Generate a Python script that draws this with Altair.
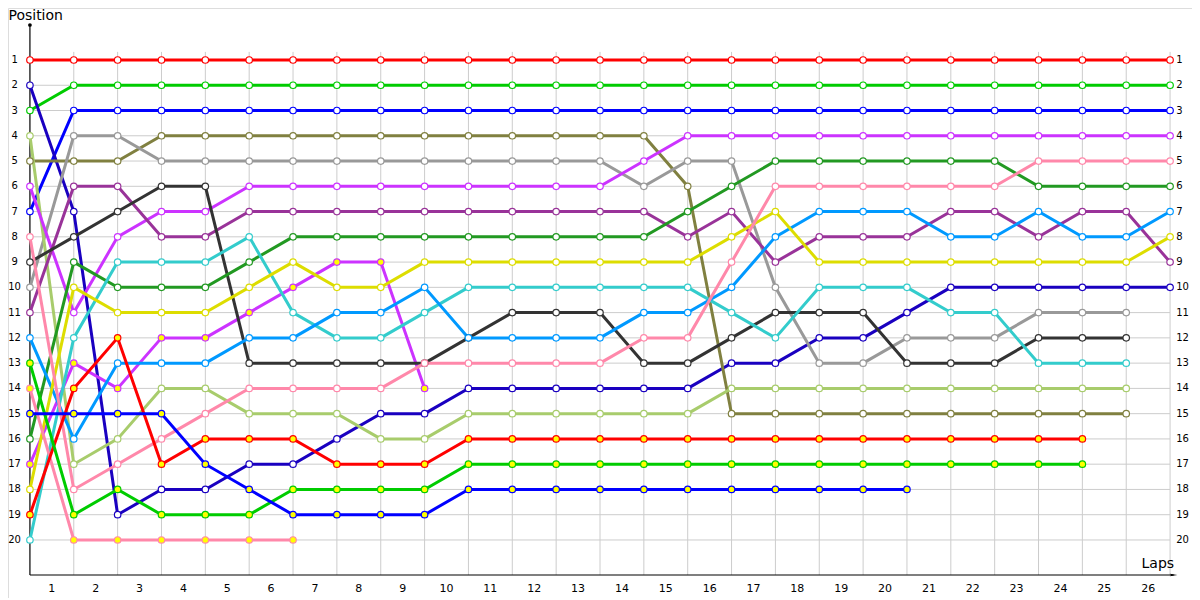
import altair as alt
import pandas as pd

# ---------------- data ----------------
laps = list(range(27))
pos_labels = list(range(1, 21))
lap_labels = list(range(1, 27))

drivers = ["red_a", "green_a", "blue_a", "navy", "olive", "gray", "lightgreen",
           "violet", "violet_b", "darkpurple", "darkgray", "darkgreen", "cyan",
           "lightblue", "yellow", "pink_a", "pink_b", "red_b", "green_b", "blue_b"]

colors = ["#ff0000", "#00cc00", "#0000ff", "#1a00c0", "#808040", "#999999", "#a8cc6c",
          "#cc33ff", "#cc33ff", "#993399", "#333333", "#229922", "#33cccc",
          "#0099ff", "#dddd00", "#ff88aa", "#ff88aa", "#ff0000", "#00cc00", "#0000ff"]

lapped = [False, False, False, False, False, False, False,
          False, True, False, False, False, False,
          False, False, False, True, True, True, True]

red_a = [1] * 27
green_a = [3] + [2] * 26
blue_a = [7] + [3] * 26
navy = [2, 7, 19, 18, 18, 17, 17, 16, 15, 15] + [14] * 6 + [13, 13, 12, 12, 11] + [10] * 6
olive = [5, 5, 5] + [4] * 12 + [6] + [15] * 10
gray = [10, 4, 4] + [5] * 11 + [6, 5, 5, 10, 13, 13, 12, 12, 12, 11, 11, 11]
lightgreen = [4, 17, 16, 14, 14, 15, 15, 15, 16, 16] + [15] * 6 + [14] * 10
violet = [6, 11, 8, 7, 7] + [6] * 9 + [5] + [4] * 12
violet_b = [17, 13, 14, 12, 12, 11, 10, 9, 9, 14]
darkpurple = [11, 6, 6, 8, 8] + [7] * 10 + [8, 7, 9, 8, 8, 8, 7, 7, 8, 7, 7, 9]
darkgray = [9, 8, 7, 6, 6] + [13] * 5 + [12, 11, 11, 11, 13, 13, 12, 11, 11, 11, 13, 13, 13, 12, 12, 12]
darkgreen = [16, 9, 10, 10, 10, 9] + [8] * 9 + [7, 6] + [5] * 6 + [6] * 4
cyan = [20, 12, 9, 9, 9, 8, 11, 12, 12, 11] + [10] * 6 + [11, 12, 10, 10, 10, 11, 11, 13, 13, 13]
lightblue = [12, 16, 13, 13, 13, 12, 12, 11, 11, 10] + [12] * 4 + [11, 11, 10, 8, 7, 7, 7, 8, 8, 7, 8, 8, 7]
yellow = [18, 10, 11, 11, 11, 10, 9, 10, 10] + [9] * 7 + [8, 7] + [9] * 8 + [8]
pink_a = [8, 18, 17, 16, 15] + [14] * 4 + [13] * 5 + [12, 12, 9] + [6] * 6 + [5] * 4
pink_b = [14] + [20] * 6
red_b = [19, 14, 12, 17, 16, 16, 16, 17, 17, 17] + [16] * 15
green_b = [13, 19, 18, 19, 19, 19, 18, 18, 18, 18] + [17] * 15
blue_b = [15, 15, 15, 15, 17, 18, 19, 19, 19, 19] + [18] * 11

series = [red_a, green_a, blue_a, navy, olive, gray, lightgreen, violet, violet_b,
          darkpurple, darkgray, darkgreen, cyan, lightblue, yellow, pink_a, pink_b,
          red_b, green_b, blue_b]

rows = []
for name, flag, s in zip(drivers, lapped, series):
    for lap, p in zip(laps, s):
        rows.append({"driver": name, "lap": lap, "pos": p,
                     "fillc": "#ffff00" if flag else "#ffffff"})
df = pd.DataFrame(rows)

# ---------------- scales ----------------
xs = alt.Scale(domain=[-0.5, 26.5], nice=False, zero=False)
ys = alt.Scale(domain=[-1.058, 22.297], nice=False, zero=False, reverse=True)
stroke_scale = alt.Scale(domain=drivers, range=colors)

FONT = "DejaVu Sans"

# ---------------- grid & axes ----------------
hgrid = pd.DataFrame({"y": pos_labels, "x": 0, "x2": 26})
vgrid = pd.DataFrame({"x": lap_labels, "y": 0.68, "y2": 21.386})

hgrid_l = alt.Chart(hgrid).mark_rule(color="#cccccc", strokeWidth=1).encode(
    x=alt.X("x:Q", scale=xs, axis=None), x2="x2:Q", y=alt.Y("y:Q", scale=ys, axis=None))
vgrid_l = alt.Chart(vgrid).mark_rule(color="#cccccc", strokeWidth=1).encode(
    x=alt.X("x:Q", scale=xs, axis=None), y=alt.Y("y:Q", scale=ys, axis=None), y2="y2:Q")

yaxis_df = pd.DataFrame({"x": [0], "y": [-0.385], "y2": [21.386]})
xaxis_df = pd.DataFrame({"x": [0], "x2": [26.08], "y": [21.386]})
yaxis_l = alt.Chart(yaxis_df).mark_rule(color="black", strokeWidth=1.2).encode(
    x=alt.X("x:Q", scale=xs, axis=None), y=alt.Y("y:Q", scale=ys, axis=None), y2="y2:Q")
xaxis_l = alt.Chart(xaxis_df).mark_rule(color="black", strokeWidth=1.2).encode(
    x=alt.X("x:Q", scale=xs, axis=None), x2="x2:Q", y=alt.Y("y:Q", scale=ys, axis=None))
ytip = alt.Chart(pd.DataFrame({"x": [0], "y": [-0.385]})).mark_point(
    shape="circle", filled=True, color="black", size=14, opacity=1).encode(
    x=alt.X("x:Q", scale=xs, axis=None), y=alt.Y("y:Q", scale=ys, axis=None))
xtip = alt.Chart(pd.DataFrame({"x": [26.08], "y": [21.386]})).mark_point(
    shape="M-1,-0.35L1,0L-1,0.35L-0.6,0Z", filled=True, color="black", size=60, opacity=1).encode(
    x=alt.X("x:Q", scale=xs, axis=None), y=alt.Y("y:Q", scale=ys, axis=None))

# tick labels
left_df = pd.DataFrame({"y": pos_labels, "x": -0.35, "t": [str(v) for v in pos_labels]})
right_df = pd.DataFrame({"y": pos_labels, "x": 26.14, "t": [str(v) for v in pos_labels]})
bottom_df = pd.DataFrame({"x": [v - 0.5 for v in lap_labels], "y": 21.94,
                          "t": [str(v) for v in lap_labels]})

left_l = alt.Chart(left_df).mark_text(font=FONT, fontSize=10, color="black",
                                      align="center", baseline="middle").encode(
    x=alt.X("x:Q", scale=xs, axis=None), y=alt.Y("y:Q", scale=ys, axis=None), text="t:N")
right_l = alt.Chart(right_df).mark_text(font=FONT, fontSize=10, color="black",
                                        align="left", baseline="middle").encode(
    x=alt.X("x:Q", scale=xs, axis=None), y=alt.Y("y:Q", scale=ys, axis=None), text="t:N")
bottom_l = alt.Chart(bottom_df).mark_text(font=FONT, fontSize=11, color="black",
                                          align="center", baseline="middle").encode(
    x=alt.X("x:Q", scale=xs, axis=None), y=alt.Y("y:Q", scale=ys, axis=None), text="t:N")

ytitle_df = pd.DataFrame({"x": [-0.49], "y": [-0.6], "t": ["Position"]})
xtitle_df = pd.DataFrame({"x": [25.72], "y": [21.1], "t": ["Laps"]})
ytitle_l = alt.Chart(ytitle_df).mark_text(font=FONT, fontSize=14, color="black",
                                          align="left", baseline="alphabetic").encode(
    x=alt.X("x:Q", scale=xs, axis=None), y=alt.Y("y:Q", scale=ys, axis=None), text="t:N")
xtitle_l = alt.Chart(xtitle_df).mark_text(font=FONT, fontSize=14, color="black",
                                          align="center", baseline="alphabetic").encode(
    x=alt.X("x:Q", scale=xs, axis=None), y=alt.Y("y:Q", scale=ys, axis=None), text="t:N")

# ---------------- data marks ----------------
lines = alt.Chart(df).mark_line(strokeWidth=3).encode(
    x=alt.X("lap:Q", scale=xs, axis=None),
    y=alt.Y("pos:Q", scale=ys, axis=None),
    stroke=alt.Stroke("driver:N", scale=stroke_scale, legend=None),
    detail="driver:N",
    order="lap:Q",
)
points = alt.Chart(df).mark_point(shape="circle", filled=True, size=42, strokeWidth=1.2,
                                  opacity=1, fillOpacity=1, strokeOpacity=1).encode(
    x=alt.X("lap:Q", scale=xs, axis=None),
    y=alt.Y("pos:Q", scale=ys, axis=None),
    stroke=alt.Stroke("driver:N", scale=stroke_scale, legend=None),
    fill=alt.Fill("fillc:N", scale=None),
)

chart = alt.layer(hgrid_l, vgrid_l, yaxis_l, xaxis_l, ytip, xtip, lines, points,
                  left_l, right_l, bottom_l, ytitle_l, xtitle_l).properties(
    width=1184, height=590,
    autosize=alt.AutoSizeParams(type="none"),
    padding=0,
).configure_view(stroke=None).configure(background="white")

chart.save("out.html", embed_options={"renderer": "svg", "actions": False})
